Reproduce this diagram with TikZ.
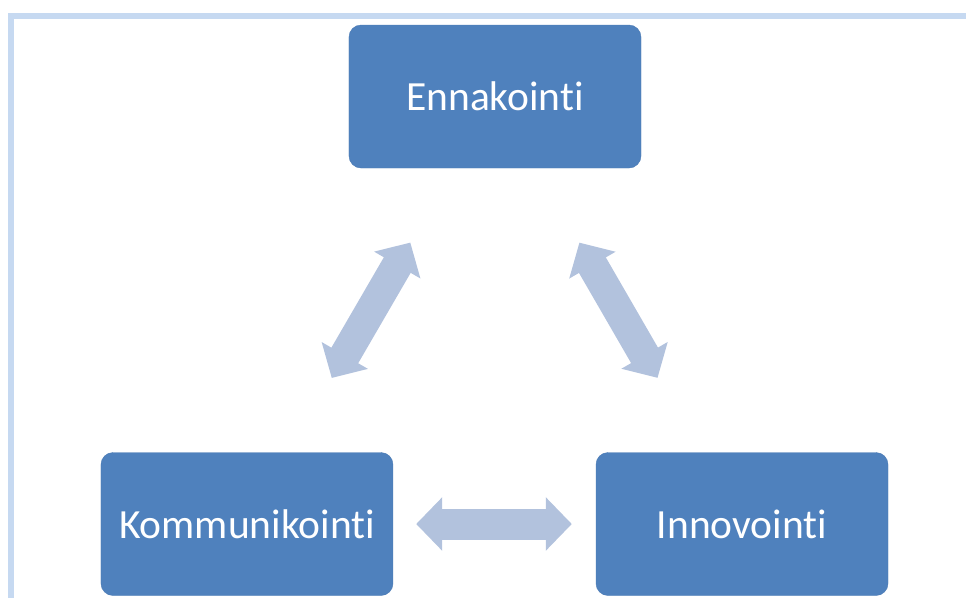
\documentclass[tikz,border=0pt]{standalone}
\usepackage{fontspec}
\setmainfont[Ligatures={NoCommon}]{Carlito}
\usepackage{tikz}
\usetikzlibrary{arrows.meta}
\usetikzlibrary{positioning}
\definecolor{boxblue}{HTML}{4F81BD}
\definecolor{boxline}{HTML}{4A7AB4}
\definecolor{arrowblue}{HTML}{B2C2DD}
\definecolor{framblue}{HTML}{C6D9F1}
\tikzset{
    mynode/.style={rectangle,rounded corners=12pt,draw=boxline,fill=boxblue,thin,text=white,minimum width=292pt,minimum height=143pt,font=\fontsize{41.5}{43}\selectfont,text centered},
    myarrow/.style={{Triangle[length=26pt,width=52pt]}-{Triangle[length=26pt,width=52pt]}, line width=31pt, draw=arrowblue},
    myframe/.style={line width=5.7pt, draw=framblue}
}

\begin{document}
\begin{tikzpicture}[node distance=3cm,on grid]
    \useasboundingbox (-495pt,96.5pt) rectangle (471pt,-501.5pt);
    \draw[myframe] (-486.85pt,80.5pt) -- (471pt,80.5pt);
    \draw[myframe] (-484pt,83.35pt) -- (-484pt,-501.5pt);
    \node[mynode] (11) at (0,0) {Ennakointi};
    \node[mynode] (21) [below left =427.5pt and 248pt of 11] {Kommunikointi};
    \node[mynode] (22) [below right =427.5pt and 247pt of 11] {Innovointi};
    \path (21) edge [myarrow, shorten <=86pt, shorten >=86pt] (11)
          (22) edge [myarrow, shorten <=86pt, shorten >=86pt] (11)
          (21) edge [myarrow, shorten <=23pt, shorten >=24pt] (22);
\end{tikzpicture}
\end{document}
